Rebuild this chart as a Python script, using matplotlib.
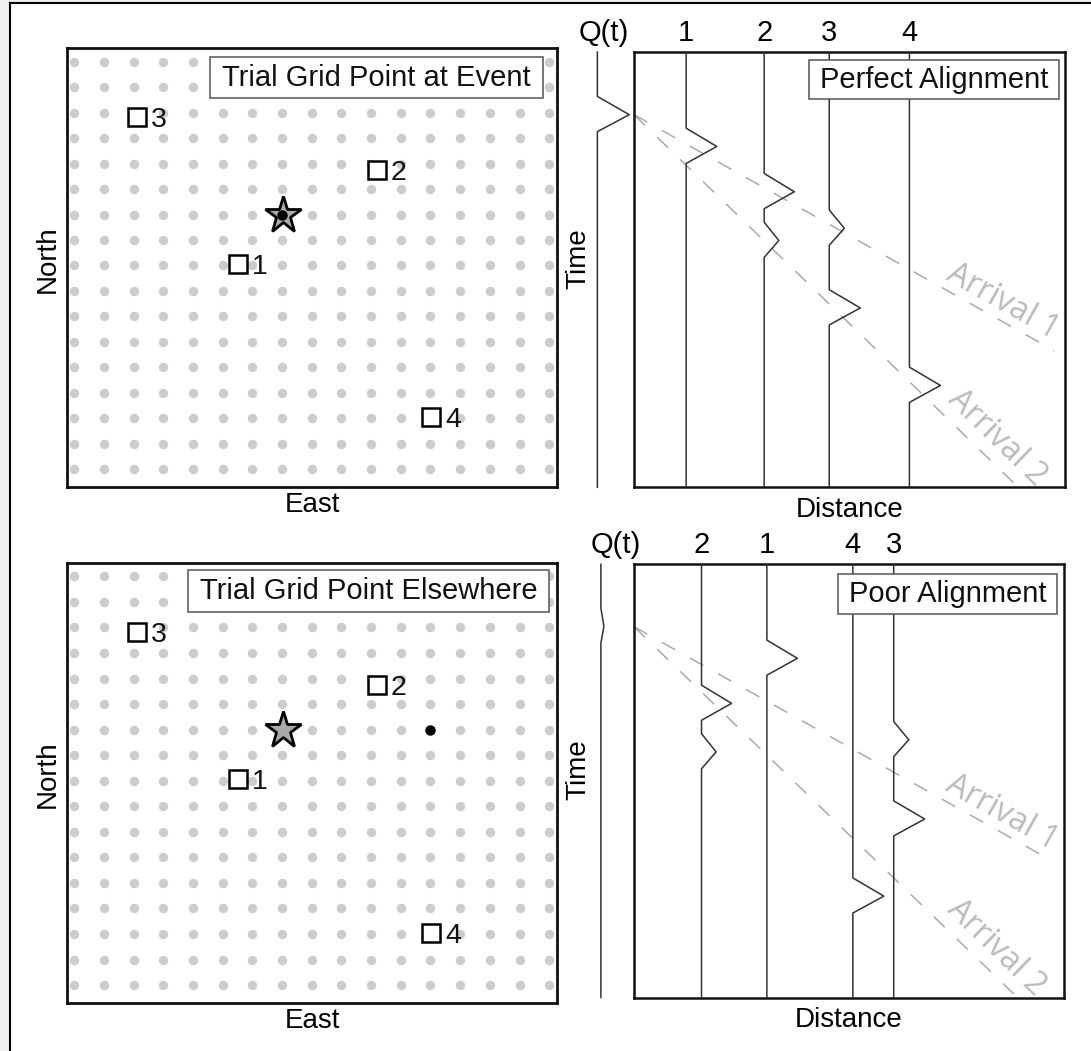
import numpy as np
import matplotlib.pyplot as plt
from matplotlib.lines import Line2D
from matplotlib.patches import Rectangle

plt.rcParams['font.family'] = ['Liberation Sans', 'DejaVu Sans']

W, H = 1091, 1051

# map: 17 x 17 trial grid, stations (east, north) in grid units
grid_n = 17
station_names = ["1", "2", "3", "4"]
station_east = [5.52, 10.2, 2.12, 12.02]
station_north = [8.06, 11.75, 13.83, 2.05]

# true event and trial grid points
event_east, event_north = 7.05, 10.0
trial_east = [7.0, 12.0]
trial_north = [10.0, 10.0]
map_titles = ["Trial Grid Point at Event", "Trial Grid Point Elsewhere"]

# record sections: station order and distance
sec_labels = [["1", "2", "3", "4"], ["2", "1", "4", "3"]]
sec_dist = [[1.21, 3.02, 4.53, 6.39], [1.57, 3.09, 5.09, 6.04]]
sec_titles = ["Perfect Alignment", "Poor Alignment"]

# wiggles on each station trace: (peak time, amplitude)
wiggles = {
    "1": [(2.17, 0.71)],
    "2": [(3.21, 0.70), (4.33, 0.34)],
    "3": [(4.05, 0.35), (5.88, 0.72)],
    "4": [(7.66, 0.72)],
}

# stacked beam Q(t): trace position, peak time, amplitude, label position
q_x = [-0.85, -0.77]
q_time = [1.44, 1.43]
q_amp = [0.74, 0.07]
q_label_x = [-0.70, -0.42]

# arrivals: origin time, slowness, end distance, label position
arr_names = ["Arrival 1", "Arrival 2"]
arr_t0 = 1.44
arr_slow = [0.556, 0.96]
arr_end = [9.75, 8.85]
arr_label_x = [8.55, 8.42]
arr_label_t = [5.74, 8.86]


def px_axes(left, top, right, bottom):
    return [left / W, 1 - bottom / H, (right - left) / W, (bottom - top) / H]


def wiggle_trace(x0, picks):
    xs, ys = [x0], [0.0]
    for t, a in sorted(picks):
        xs += [x0, x0 + a, x0]
        ys += [t - 0.42, t, t + 0.39]
    xs.append(x0)
    ys.append(10.0)
    return xs, ys


def boxed_title(ax, text, x0, y0, x1, y1):
    ax.add_patch(Rectangle((x0, y0), x1 - x0, y1 - y0, transform=ax.transAxes,
                           fc='white', ec='#555555', lw=1.1, zorder=6))
    ax.text((x0 + x1) / 2, (y0 + y1) / 2, text, transform=ax.transAxes,
            ha='center', va='center', fontsize=21, color='#111111', zorder=7)


def draw_map(ax, k, box):
    gx, gy = np.meshgrid(np.arange(grid_n), np.arange(grid_n))
    ax.scatter(gx.ravel(), gy.ravel(), s=46, color='#cccccc', linewidths=0, zorder=1)
    ax.plot(station_east, station_north, 's', ms=13, mfc='white', mec='black',
            mew=1.8, ls='none', zorder=3)
    for e, n, name in zip(station_east, station_north, station_names):
        ax.annotate(name, (e, n), xytext=(10, 0), textcoords='offset points',
                    ha='left', va='center_baseline', fontsize=20.5, color='#111111')
    ax.plot(event_east, event_north, '*', ms=28, mfc='#aaaaaa', mec='black',
            mew=2.0, zorder=4)
    ax.plot(trial_east[k], trial_north[k], 'o', ms=6.5, color='black', zorder=5)
    ax.set_xlim(-0.24, 16.26)
    ax.set_ylim(-0.7, 16.54)
    ax.set_xticks([])
    ax.set_yticks([])
    for s in ax.spines.values():
        s.set_linewidth(2.0)
        s.set_color('#111111')
    ax.text(0.5, -0.041, "East", transform=ax.transAxes, ha='center', va='center', fontsize=20)
    ax.text(-0.039, 0.52, "North", transform=ax.transAxes, ha='center', va='center',
            rotation=90, fontsize=20)
    boxed_title(ax, map_titles[k], *box)


def draw_section(ax, k, box):
    ax.set_xlim(0, 10)
    ax.set_ylim(10, 0)
    ax.set_xticks([])
    ax.set_yticks([])
    for s in ax.spines.values():
        s.set_linewidth(1.8)
        s.set_color('#111111')

    # stacked trace to the left of the section
    xs, ys = wiggle_trace(q_x[k], [(q_time[k], q_amp[k])])
    ax.plot(xs, ys, color='#333333', lw=1.1, clip_on=False)
    ax.text(q_label_x[k], -0.44, "Q(t)", ha='center', va='center', fontsize=21, clip_on=False)

    for name, d in zip(sec_labels[k], sec_dist[k]):
        xs, ys = wiggle_trace(d, wiggles[name])
        ax.plot(xs, ys, color='#333333', lw=1.1, zorder=3)
        ax.text(d, -0.44, name, ha='center', va='center', fontsize=21, clip_on=False)

    for name, s, xe, lx, lt in zip(arr_names, arr_slow, arr_end, arr_label_x, arr_label_t):
        ax.plot([0, xe], [arr_t0, arr_t0 + s * xe], color='#aaaaaa', lw=1.1,
                dashes=(10, 11), zorder=2)
        p0 = ax.transData.transform((0, arr_t0))
        p1 = ax.transData.transform((1, arr_t0 + s))
        ang = np.degrees(np.arctan2(p1[1] - p0[1], p1[0] - p0[0]))
        ax.text(lx, lt, name, rotation=ang, rotation_mode='anchor', ha='center', va='center',
                fontsize=23, color='#bbbbbb', family=['Open Sans', 'DejaVu Sans'])

    ax.text(0.5, -0.053, "Distance", transform=ax.transAxes, ha='center', va='center', fontsize=20)
    ax.text(-0.13, 0.525, "Time", transform=ax.transAxes, ha='center', va='center',
            rotation=90, fontsize=20)
    boxed_title(ax, sec_titles[k], *box)


fig = plt.figure(figsize=(W / 100, H / 100), dpi=100)
fig.patch.set_facecolor('white')

# outer frame (left and top edges visible)
fig.add_artist(Rectangle((0, 0), 9.5 / W, 1, transform=fig.transFigure, fc='#f0f0f0', ec='none'))
fig.add_artist(Rectangle((0, 1 - 2 / H), 1, 2 / H, transform=fig.transFigure, fc='#f0f0f0', ec='none'))
fig.add_artist(Line2D([10 / W, 10 / W], [0, 1 - 2.7 / H], transform=fig.transFigure, color='black', lw=1.5))
fig.add_artist(Line2D([10 / W, 1], [1 - 2.7 / H, 1 - 2.7 / H], transform=fig.transFigure, color='black', lw=1.5))

ax1 = fig.add_axes(px_axes(67, 48, 557, 487))
draw_map(ax1, 0, (0.292, 0.886, 0.971, 0.9795))

ax2 = fig.add_axes(px_axes(634, 52, 1065, 487.3))
draw_section(ax2, 0, (0.407, 0.891, 0.986, 0.9816))

ax3 = fig.add_axes(px_axes(67, 562.5, 557, 1003))
draw_map(ax3, 1, (0.2476, 0.8875, 0.984, 0.9825))

ax4 = fig.add_axes(px_axes(634, 564.3, 1064, 997.5))
draw_section(ax4, 1, (0.475, 0.885, 0.984, 0.977))

fig.savefig("out.png", dpi=100)
